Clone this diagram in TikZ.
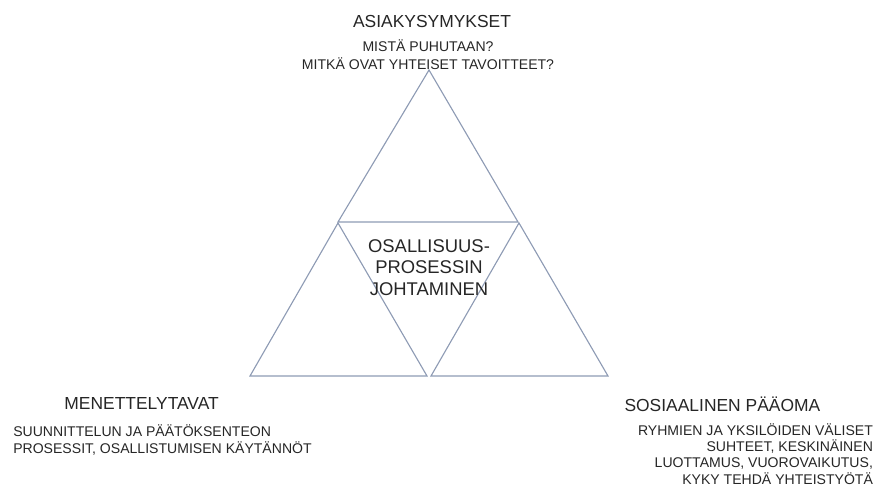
\documentclass[tikz,border=0pt]{standalone}
\usepackage{fontspec}
\setmainfont{Liberation Sans}
\usepackage{xcolor}
\definecolor{edgeblue}{HTML}{8E9BB4}
\definecolor{textgray}{HTML}{262626}

\begin{document}
\begin{tikzpicture}[
  tri/.style={draw=edgeblue, line width=0.8pt, line join=miter},
  head/.style={font=\fontsize{12.4}{14}\selectfont, text=textgray, inner sep=0pt},
  desc/.style={font=\fontsize{10}{12}\selectfont, text=textgray, inner sep=0pt},
  core/.style={font=\fontsize{13.1}{15.3}\selectfont, text=black!85, align=center, inner sep=0pt},
]
\useasboundingbox (0,0) rectangle (21.925,12.15);

% Triangle corners
\coordinate (t1) at (10.725,10.4);
\coordinate (t2) at (8.45,6.6);
\coordinate (t3) at (12.95,6.6);
\coordinate (l1) at (8.45,6.575);
\coordinate (l2) at (6.25,2.75);
\coordinate (l3) at (10.675,2.75);
\coordinate (r1) at (12.975,6.575);
\coordinate (r2) at (10.775,2.75);
\coordinate (r3) at (15.2,2.75);

% Triangles
\draw[tri] (t1) -- (t2) -- (t3) -- cycle;
\draw[tri] (l1) -- (l2) -- (l3) -- cycle;
\draw[tri] (r1) -- (r2) -- (r3) -- cycle;

% Centre
\node[core] (core) at (10.725,5.46) {OSALLISUUS-\\PROSESSIN\\JOHTAMINEN};

% Top
\node[head] (ask) at (10.8,11.62) {ASIAKYSYMYKSET};
\node[desc, align=center, font=\fontsize{10}{13.2}\selectfont] (askd) at (10.7,10.78) {MISTÄ PUHUTAAN?\\MITKÄ OVAT YHTEISET TAVOITTEET?};

% Bottom left
\node[head] (men) at (3.54,2.06) {MENETTELYTAVAT};
\node[desc, align=left, anchor=west] (mend) at (0.325,1.14) {SUUNNITTELUN JA PÄÄTÖKSENTEON\\PROSESSIT, OSALLISTUMISEN KÄYTÄNNÖT};

% Bottom right
\node[head] (sos) at (18.06,2.05) {SOSIAALINEN PÄÄOMA};
\node[desc, align=right, anchor=east, font=\fontsize{10}{11.5}\selectfont] (sosd) at (21.83,0.8) {RYHMIEN JA YKSILÖIDEN VÄLISET\\SUHTEET, KESKINÄINEN\\LUOTTAMUS, VUOROVAIKUTUS,\\KYKY TEHDÄ YHTEISTYÖTÄ};
\end{tikzpicture}
\end{document}
